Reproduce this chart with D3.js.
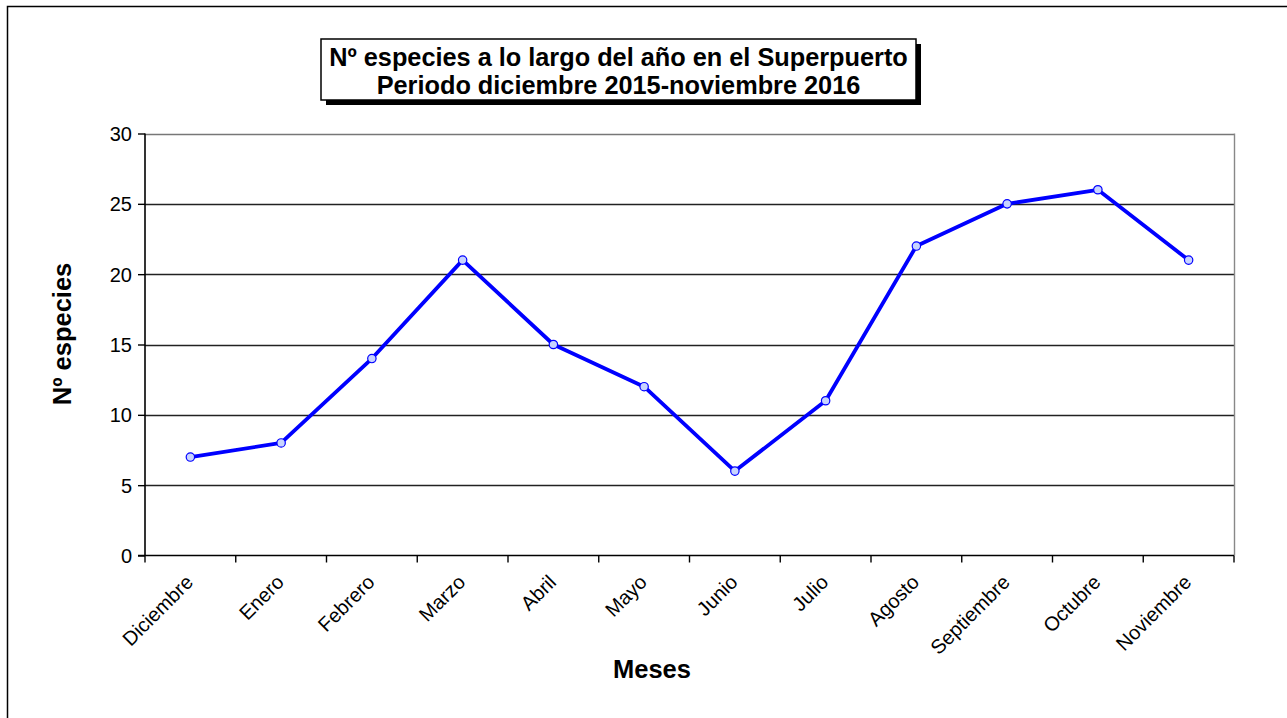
<!DOCTYPE html>
<html>
<head>
<meta charset="utf-8">
<script src="https://cdn.jsdelivr.net/npm/d3@7"></script>
<style>
  html, body { margin: 0; padding: 0; background: #fff; }
  svg { display: block; font-family: "Liberation Sans", Arial, sans-serif; }
</style>
</head>
<body>
<script>
// Monthly species counts, December 2015 – November 2016
const months = ["Diciembre", "Enero", "Febrero", "Marzo", "Abril", "Mayo",
                "Junio", "Julio", "Agosto", "Septiembre", "Octubre", "Noviembre"];
const species = [7, 8, 14, 21, 15, 12, 6, 11, 22, 25, 26, 21];
const yTicks = [0, 5, 10, 15, 20, 25, 30];
const titleLines = ["Nº especies a lo largo del año en el Superpuerto",
                    "Periodo diciembre 2015-noviembre 2016"];

const W = 1287, H = 718;
const plot = { left: 145, right: 1234, top: 133.5, bottom: 555.5 };
const FONT = "'Liberation Sans', Arial, sans-serif";

const svg = d3.select("body").append("svg")
  .attr("width", W).attr("height", H);

// Outer chart frame (runs past the right and bottom edges)
svg.append("rect")
  .attr("x", 7.5).attr("y", 6.5)
  .attr("width", W + 20).attr("height", H + 20)
  .attr("fill", "none").attr("stroke", "#000").attr("stroke-width", 1.5);

const x = d3.scaleBand().domain(months).range([plot.left, plot.right]).padding(0);
const y = d3.scaleLinear().domain([0, 30]).range([plot.bottom, plot.top]);

// Horizontal gridlines
svg.append("g")
  .selectAll("line")
  .data(yTicks.filter(t => t > 0))
  .join("line")
  .attr("x1", plot.left).attr("x2", plot.right)
  .attr("y1", d => Math.round(y(d)) + 0.5).attr("y2", d => Math.round(y(d)) + 0.5)
  .attr("stroke", d => d === 30 ? "#777" : "#222")
  .attr("stroke-width", 1.4);

// Right edge of the plot area
svg.append("line")
  .attr("x1", plot.right + 0.5).attr("x2", plot.right + 0.5)
  .attr("y1", plot.top).attr("y2", plot.bottom)
  .attr("stroke", "#888").attr("stroke-width", 1.4);

// Y axis
const yAxis = svg.append("g")
  .attr("transform", `translate(${plot.left},0)`)
  .call(d3.axisLeft(y).tickValues(yTicks).tickSize(7).tickPadding(6).tickFormat(d3.format("d")));
yAxis.attr("font-size", null).attr("font-family", null);
yAxis.select(".domain").attr("stroke", "#000").attr("stroke-width", 1.6).attr("d", `M0,${plot.top}V${plot.bottom}`);
yAxis.selectAll(".tick line").attr("stroke", "#000").attr("stroke-width", 1.4);
yAxis.selectAll(".tick text")
  .attr("font-size", 20).attr("fill", "#000").attr("font-family", FONT)
  .attr("dy", "0.35em");

// X axis with ticks between categories
const xAxisG = svg.append("g").attr("transform", `translate(0,${plot.bottom})`);
xAxisG.append("line")
  .attr("x1", plot.left - 7).attr("x2", plot.right)
  .attr("stroke", "#000").attr("stroke-width", 1.6);
const boundaries = months.map(m => x(m)).concat([x(months[months.length - 1]) + x.bandwidth()]);
xAxisG.selectAll("line.tk")
  .data(boundaries)
  .join("line").attr("class", "tk")
  .attr("x1", d => d).attr("x2", d => d)
  .attr("y1", 0).attr("y2", 7)
  .attr("stroke", "#000").attr("stroke-width", 1.4);
xAxisG.selectAll("text")
  .data(months)
  .join("text")
  .attr("transform", d => `translate(${x(d) + x.bandwidth() / 2 + 4},${28}) rotate(-45)`)
  .attr("text-anchor", "end")
  .attr("font-size", 20)
  .attr("fill", "#000")
  .text(d => d);

// Data line
const line = d3.line()
  .x((d, i) => x(months[i]) + x.bandwidth() / 2)
  .y(d => y(d));
svg.append("path")
  .datum(species)
  .attr("d", line)
  .attr("fill", "none")
  .attr("stroke", "#0000ff")
  .attr("stroke-width", 3.8)
  .attr("stroke-linejoin", "round");

svg.append("g")
  .selectAll("circle")
  .data(species)
  .join("circle")
  .attr("cx", (d, i) => x(months[i]) + x.bandwidth() / 2)
  .attr("cy", d => y(d))
  .attr("r", 4.2)
  .attr("fill", "#c8d4ff")
  .attr("stroke", "#0000ff")
  .attr("stroke-width", 1.2);

// Title box with drop shadow
const tb = { x: 321, y: 39, w: 595, h: 61 };
svg.append("rect")
  .attr("x", tb.x + 5).attr("y", tb.y + 5)
  .attr("width", tb.w).attr("height", tb.h)
  .attr("fill", "#000");
svg.append("rect")
  .attr("x", tb.x).attr("y", tb.y)
  .attr("width", tb.w).attr("height", tb.h)
  .attr("fill", "#fff").attr("stroke", "#000").attr("stroke-width", 1.5);
svg.append("g")
  .selectAll("text")
  .data(titleLines)
  .join("text")
  .attr("x", tb.x + tb.w / 2)
  .attr("y", (d, i) => 65.5 + i * 28.5)
  .attr("text-anchor", "middle")
  .attr("font-size", 25.3)
  .attr("font-weight", "bold")
  .attr("fill", "#000")
  .text(d => d);

// Axis titles
svg.append("text")
  .attr("transform", `translate(71,334) rotate(-90)`)
  .attr("text-anchor", "middle")
  .attr("font-size", 25.5).attr("font-weight", "bold")
  .text("Nº especies");
svg.append("text")
  .attr("x", 652).attr("y", 678)
  .attr("text-anchor", "middle")
  .attr("font-size", 25.5).attr("font-weight", "bold")
  .text("Meses");
</script>
</body>
</html>
